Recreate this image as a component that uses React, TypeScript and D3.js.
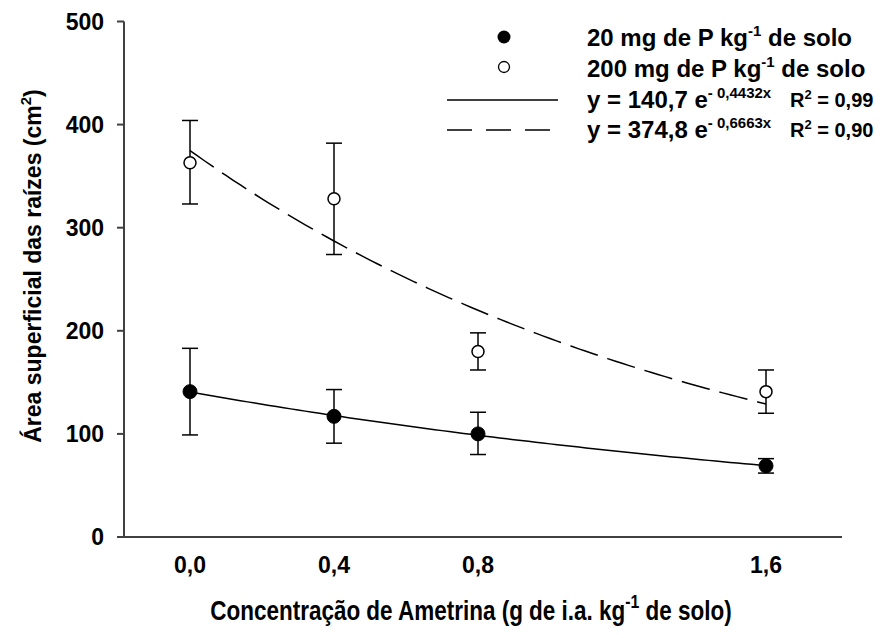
import React from "react";
import * as d3 from "d3";

const doses = [0.0, 0.4, 0.8, 1.6];
const doseLabels = ["0,0", "0,4", "0,8", "1,6"];
const yTicks = [0, 100, 200, 300, 400, 500];

const p20Mean = [141, 117, 100, 69];
const p20Low = [99, 91, 80, 62];
const p20High = [183, 143, 121, 76];

const p200Mean = [363, 328, 180, 141];
const p200Low = [323, 274, 162, 120];
const p200High = [404, 382, 198, 162];

const fit20 = { a: 140.7, b: 0.4432 };
const fit200 = { a: 374.8, b: 0.6663 };

const W = 893;
const H = 638;
const FONT = "'Liberation Sans', Arial, Helvetica, sans-serif";

export default function App() {
  const x = d3.scaleLinear().domain([0, 1.6]).range([190, 766]);
  const y = d3.scaleLinear().domain([0, 500]).range([537, 21.5]);
  const axisLeft = 124;
  const axisRight = 842;

  const curve = (f: { a: number; b: number }) => {
    const pts = d3.range(0, 1.6001, 0.02).map((v) => [v, f.a * Math.exp(-f.b * v)] as [number, number]);
    return d3.line<[number, number]>().x((d) => x(d[0])).y((d) => y(d[1]))(pts) || "";
  };

  const errBars = (low: number[], high: number[], key: string) =>
    doses.map((d, i) => (
      <g key={key + i} stroke="#000" strokeWidth={1.5}>
        <line x1={x(d)} x2={x(d)} y1={y(low[i])} y2={y(high[i])} />
        <line x1={x(d) - 8} x2={x(d) + 8} y1={y(low[i])} y2={y(low[i])} />
        <line x1={x(d) - 8} x2={x(d) + 8} y1={y(high[i])} y2={y(high[i])} />
      </g>
    ));

  return (
    <div style={{ position: "absolute", left: 0, top: 0 }}>
      <svg width={W} height={H} style={{ display: "block", background: "#fff" }} fontFamily={FONT} fontWeight="bold">
        {/* axes */}
        <line x1={axisLeft} x2={axisLeft} y1={y(500)} y2={y(0)} stroke="#404040" strokeWidth={2} />
        <line x1={axisLeft - 1} x2={axisRight} y1={y(0)} y2={y(0)} stroke="#404040" strokeWidth={2} />
        {yTicks.map((t) => (
          <g key={"yt" + t}>
            <line x1={axisLeft - 7} x2={axisLeft} y1={y(t)} y2={y(t)} stroke="#404040" strokeWidth={2} />
            <text x={104} y={y(t)} dy="0.36em" textAnchor="end" fontSize={23}>
              {t}
            </text>
          </g>
        ))}
        {doses.map((d, i) => (
          <text key={"xt" + i} x={x(d)} y={573} textAnchor="middle" fontSize={23}>
            {doseLabels[i]}
          </text>
        ))}

        {/* axis titles */}
        <text transform="translate(41,266) rotate(-90)" textAnchor="middle" fontSize={23}>
          Área superficial das raízes (cm
          <tspan fontSize={15} dy={-10}>2</tspan>
          <tspan dy={10}>)</tspan>
        </text>
        <g transform="translate(471,620) scale(0.833,1)">
          <text x={0} y={0} textAnchor="middle" fontSize={27}>
            Concentração de Ametrina (g de i.a. kg
            <tspan fontSize={19} dy={-12}>-1</tspan>
            <tspan dy={12}> de solo)</tspan>
          </text>
        </g>

        {/* fitted curves */}
        <path d={curve(fit20)} fill="none" stroke="#000" strokeWidth={1.5} />
        <path d={curve(fit200)} fill="none" stroke="#000" strokeWidth={1.5} strokeDasharray="29,10" />

        {/* error bars */}
        {errBars(p20Low, p20High, "e20")}
        {errBars(p200Low, p200High, "e200")}

        {/* points */}
        {doses.map((d, i) => (
          <circle key={"p20" + i} cx={x(d)} cy={y(p20Mean[i])} r={7} fill="#000" stroke="#000" strokeWidth={1} />
        ))}
        {doses.map((d, i) => (
          <circle key={"p200" + i} cx={x(d)} cy={y(p200Mean[i])} r={6} fill="#fff" stroke="#000" strokeWidth={1.5} />
        ))}

        {/* legend */}
        <circle cx={504} cy={37} r={6.5} fill="#000" />
        <circle cx={504} cy={67} r={5.5} fill="#fff" stroke="#000" strokeWidth={1.3} />
        <line x1={447} x2={558} y1={100} y2={100} stroke="#000" strokeWidth={1.5} />
        <line x1={447} x2={551} y1={130} y2={130} stroke="#000" strokeWidth={1.5} strokeDasharray="25,14" />

        <text x={587} y={45.5} fontSize={24}>
          20 mg de P kg<tspan fontSize={15} dy={-10}>-1</tspan>
          <tspan dy={10}> de solo</tspan>
        </text>
        <text x={587} y={76.5} fontSize={24}>
          200 mg de P kg<tspan fontSize={15} dy={-10}>-1</tspan>
          <tspan dy={10}> de solo</tspan>
        </text>
        <text x={587} y={108} fontSize={24}>
          y = 140,7 e<tspan fontSize={15} dy={-10}>- 0,4432x</tspan>
        </text>
        <text x={790} y={106.5} fontSize={20}>
          R<tspan fontSize={13} dy={-8}>2</tspan>
          <tspan dy={8}> = 0,99</tspan>
        </text>
        <text x={587} y={138} fontSize={24}>
          y = 374,8 e<tspan fontSize={15} dy={-10}>- 0,6663x</tspan>
        </text>
        <text x={790} y={136.5} fontSize={20}>
          R<tspan fontSize={13} dy={-8}>2</tspan>
          <tspan dy={8}> = 0,90</tspan>
        </text>
      </svg>
    </div>
  );
}
